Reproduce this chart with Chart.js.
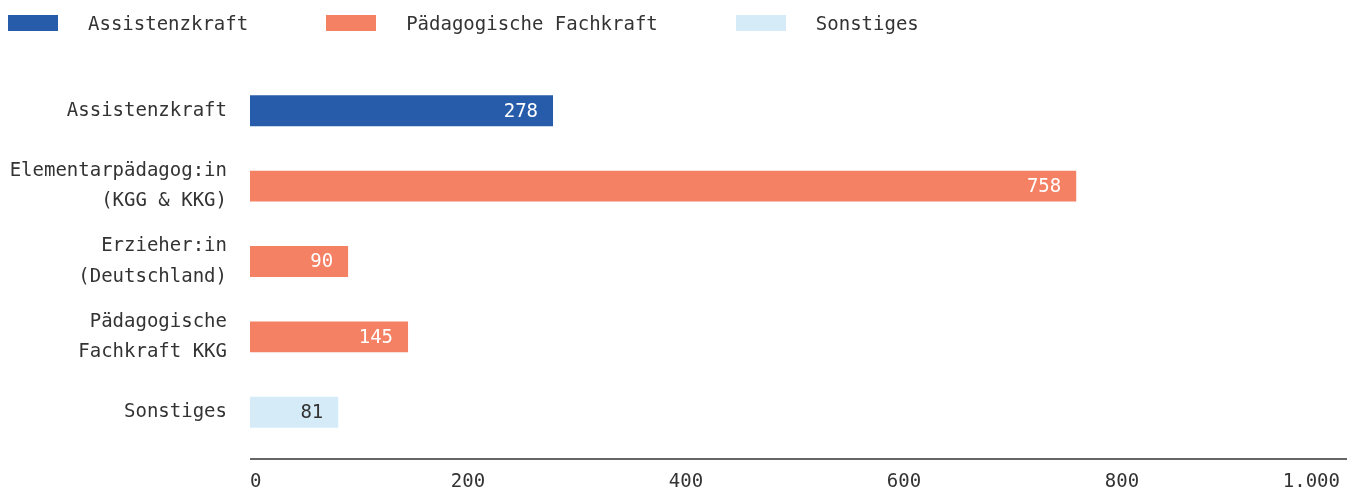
<!DOCTYPE html>
<html>
<head>
<meta charset="utf-8">
<script src="https://cdn.jsdelivr.net/npm/chart.js@4"></script>
<style>
    body { margin: 0; background: #fff; }
    #wrap { position: relative; width: 1349px; height: 490px; }
    #legend {
        position: absolute; left: 8px; top: 12px;
        display: flex; gap: 78px;
        font: 19px "DejaVu Sans Mono", monospace; color: #333;
    }
    .item { display: flex; align-items: center; }
    .box { width: 50px; height: 16px; margin-right: 30px; }
</style>
</head>
<body>
<div id="wrap">
    <div id="legend"></div>
    <canvas id="chart" width="1349" height="490"></canvas>
</div>
<script>
const categories = [
    "Assistenzkraft",
    ["Elementarpädagog:in", "(KGG & KKG)"],
    ["Erzieher:in", "(Deutschland)"],
    ["Pädagogische", "Fachkraft KKG"],
    "Sonstiges",
];
const values = [278, 758, 90, 145, 81];
const groupOf = [0, 1, 1, 1, 2];
const groupNames = ["Assistenzkraft", "Pädagogische Fachkraft", "Sonstiges"];
const groupColors = ["#265ca9", "#f48163", "#d5ecf8"];
const labelColors = ["#fff", "#fff", "#333"];
const xTicks = [0, 200, 400, 600, 800, 1000];

const FONT = "DejaVu Sans Mono";

// legend as html
const legend = document.getElementById("legend");
groupNames.forEach((name, i) => {
    const item = document.createElement("div");
    item.className = "item";
    item.innerHTML = `<span class="box" style="background:${groupColors[i]}"></span><span>${name}</span>`;
    legend.appendChild(item);
});

const barValues = {
    id: "barValues",
    afterDatasetsDraw(chart) {
        const { ctx } = chart;
        const meta = chart.getDatasetMeta(0);
        ctx.save();
        ctx.font = `19px "${FONT}"`;
        ctx.textAlign = "right";
        ctx.textBaseline = "middle";
        meta.data.forEach((bar, i) => {
            ctx.fillStyle = labelColors[groupOf[i]];
            ctx.fillText(values[i], bar.x - 15, bar.y + 1);
        });
        ctx.restore();
    },
};

const axisLine = {
    id: "axisLine",
    afterDraw(chart) {
        const { ctx, chartArea } = chart;
        ctx.save();
        ctx.strokeStyle = "#333";
        ctx.lineWidth = 1.5;
        ctx.beginPath();
        ctx.moveTo(chartArea.left, chartArea.bottom + 9);
        ctx.lineTo(chart.width - 2, chartArea.bottom + 9);
        ctx.stroke();
        ctx.restore();
    },
};

new Chart(document.getElementById("chart"), {
    type: "bar",
    data: {
        labels: categories,
        datasets: [
            {
                data: values,
                backgroundColor: values.map((v, i) => groupColors[groupOf[i]]),
                barPercentage: 0.41,
                categoryPercentage: 1,
            },
        ],
    },
    options: {
        indexAxis: "y",
        responsive: false,
        animation: false,
        layout: { padding: { top: 73, right: 9, bottom: 0, left: 0 } },
        plugins: {
            legend: { display: false },
            tooltip: { enabled: false },
        },
        scales: {
            x: {
                min: 0,
                max: 1000,
                afterBuildTicks(scale) {
                    scale.ticks = xTicks.map((v) => ({ value: v }));
                },
                afterFit(scale) {
                    scale.height = 40;
                    scale.paddingLeft = 0;
                    scale.paddingRight = 0;
                },
                grid: { display: false, drawTicks: false },
                border: { display: false },
                ticks: {
                    align: "inner",
                    padding: 21,
                    color: "#333",
                    font: { family: FONT, size: 19 },
                    callback: (v) => (v >= 1000 ? "1.000" : String(v)),
                },
            },
            y: {
                afterFit(scale) {
                    scale.width = 250;
                },
                grid: { display: false, drawTicks: false },
                border: { display: false },
                ticks: {
                    padding: 23,
                    color: "#333",
                    font: { family: FONT, size: 19, lineHeight: 1.6 },
                },
            },
        },
    },
    plugins: [barValues, axisLine],
});
</script>
</body>
</html>
